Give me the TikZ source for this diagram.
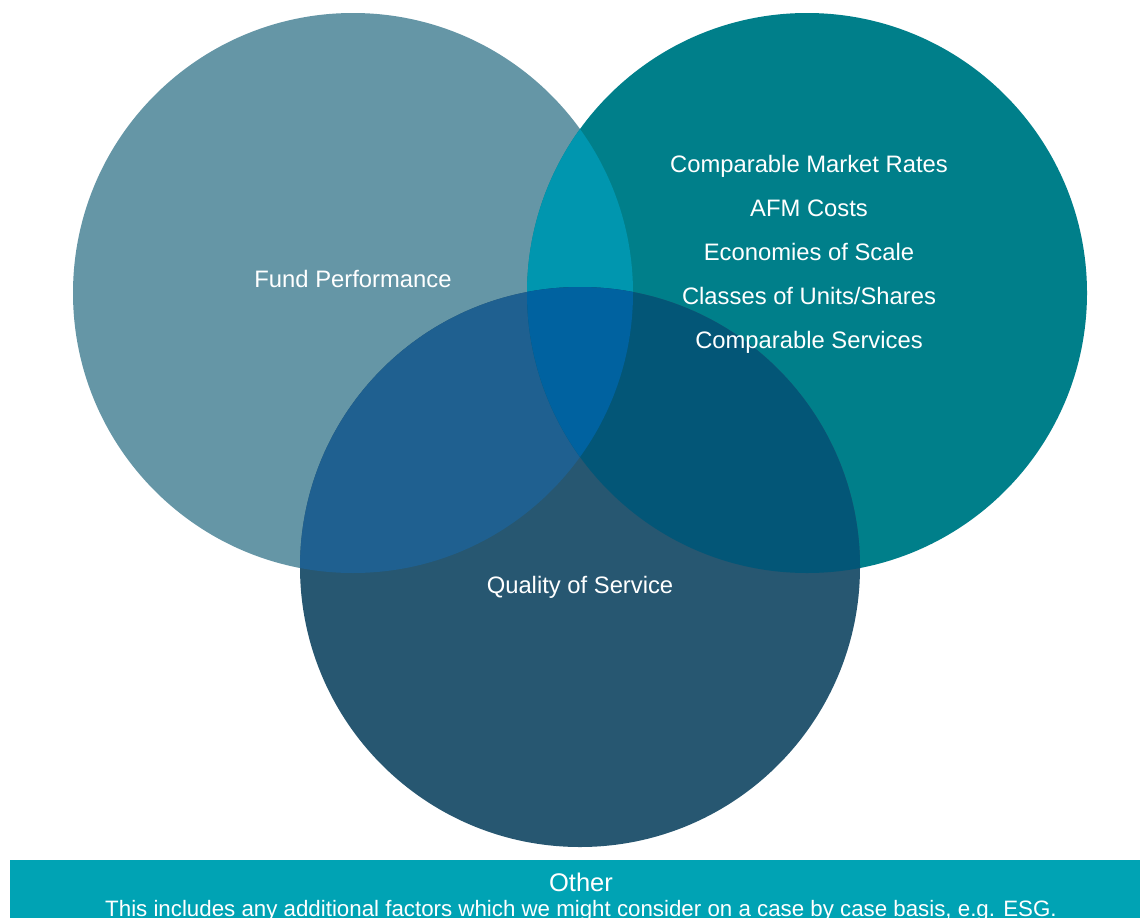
\documentclass[tikz,border=0pt]{standalone}
\usepackage{fontspec}
\setmainfont{Liberation Sans}
\definecolor{cL}{HTML}{6596A6}
\definecolor{cR}{HTML}{007F8A}
\definecolor{cB}{HTML}{275771}
\definecolor{cLR}{HTML}{0096AF}
\definecolor{cLB}{HTML}{1F6090}
\definecolor{cRB}{HTML}{035677}
\definecolor{cLRB}{HTML}{0062A0}
\definecolor{cBar}{HTML}{00A3B4}
\begin{document}
\begin{tikzpicture}[x=1pt,y=-1pt,
  lbl/.style={text=white,anchor=base,inner sep=0pt,font=\fontsize{23.8}{26}\selectfont},
  barlbl/.style={text=white,anchor=base,inner sep=0pt}]
\useasboundingbox (0,0) rectangle (1140,918);
\fill[white] (0,0) rectangle (1140,918);
\def\cL{(353,293) circle[radius=280]}
\def\cR{(807,293) circle[radius=280]}
\def\cB{(580,567) circle[radius=280]}
\fill[cL] \cL;
\fill[cR] \cR;
\fill[cB] \cB;
\begin{scope}\clip \cL; \fill[cLR] \cR; \end{scope}
\begin{scope}\clip \cL; \fill[cLB] \cB; \end{scope}
\begin{scope}\clip \cR; \fill[cRB] \cB; \end{scope}
\begin{scope}\clip \cL; \clip \cR; \fill[cLRB] \cB; \end{scope}
\node[lbl] (fp) at (353,287) {Fund Performance};
\node[lbl] (qs) at (580,593) {Quality of Service};
\node[lbl] (r1) at (809,172) {Comparable Market Rates};
\node[lbl] (r2) at (809,216) {AFM Costs};
\node[lbl] (r3) at (809,260) {Economies of Scale};
\node[lbl] (r4) at (809,304) {Classes of Units/Shares};
\node[lbl] (r5) at (809,348) {Comparable Services};
\fill[cBar] (10,860) rectangle (1140,918);
\node[barlbl,font=\fontsize{25.5}{28}\selectfont] (oth) at (581,891) {Other};
\node[barlbl,font=\fontsize{22.3}{26}\selectfont] (desc) at (581,916) {This includes any additional factors which we might consider on a case by case basis, e.g. ESG.};
\end{tikzpicture}
\end{document}
